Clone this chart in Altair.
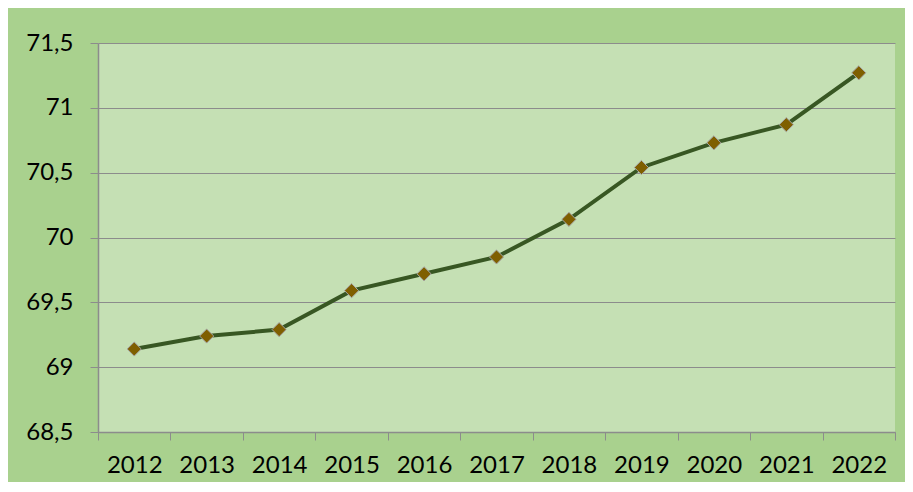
import altair as alt
import pandas as pd

years = ["2012", "2013", "2014", "2015", "2016", "2017", "2018", "2019", "2020", "2021", "2022"]
values = [69.14, 69.24, 69.29, 69.59, 69.72, 69.85, 70.14, 70.54, 70.73, 70.87, 71.27]
y_ticks = [68.5, 69.0, 69.5, 70.0, 70.5, 71.0, 71.5]

df = pd.DataFrame({"year": years, "value": values})

FONT = "Lato"
GRID = "#8c8c8c"

x = alt.X(
    "year:O",
    sort=years,
    scale=alt.Scale(type="band", paddingInner=0, paddingOuter=0),
    axis=alt.Axis(
        title=None,
        tickBand="extent",
        labelAngle=0,
        labelFont=FONT,
        labelFontSize=24,
        labelColor="#000000",
        labelPadding=13,
        tickColor=GRID,
        tickSize=8,
        domainColor=GRID,
        domainWidth=1.5,
        grid=False,
    ),
)
y = alt.Y(
    "value:Q",
    scale=alt.Scale(domain=[68.5, 71.5], nice=False, zero=False),
    axis=alt.Axis(
        title=None,
        values=y_ticks,
        labelExpr="replace(toString(datum.value), '.', ',')",
        labelFont=FONT,
        labelFontSize=24,
        labelColor="#000000",
        labelPadding=17,
        tickColor=GRID,
        tickSize=8,
        domainColor=GRID,
        domainWidth=1.5,
        grid=True,
        gridColor=GRID,
        gridWidth=1.2,
    ),
)

line = alt.Chart(df).mark_line(color="#385723", strokeWidth=4).encode(x=x, y=y)
points = alt.Chart(df).mark_point(
    shape="diamond", size=200, filled=True, fill="#7f5f00", stroke="#a6a6a6", strokeWidth=1, opacity=1
).encode(x=x, y=y)

chart = (
    alt.layer(line, points)
    .properties(
        width=797,
        height=389,
        background="#a9d18e",
        padding={"left": 90, "top": 35, "right": 10, "bottom": 50},
        autosize=alt.AutoSizeParams(type="none"),
    )
    .configure_view(fill="#c5e0b4", stroke=None)
)

chart.save("out.html", embed_options={"renderer": "svg", "actions": False})
